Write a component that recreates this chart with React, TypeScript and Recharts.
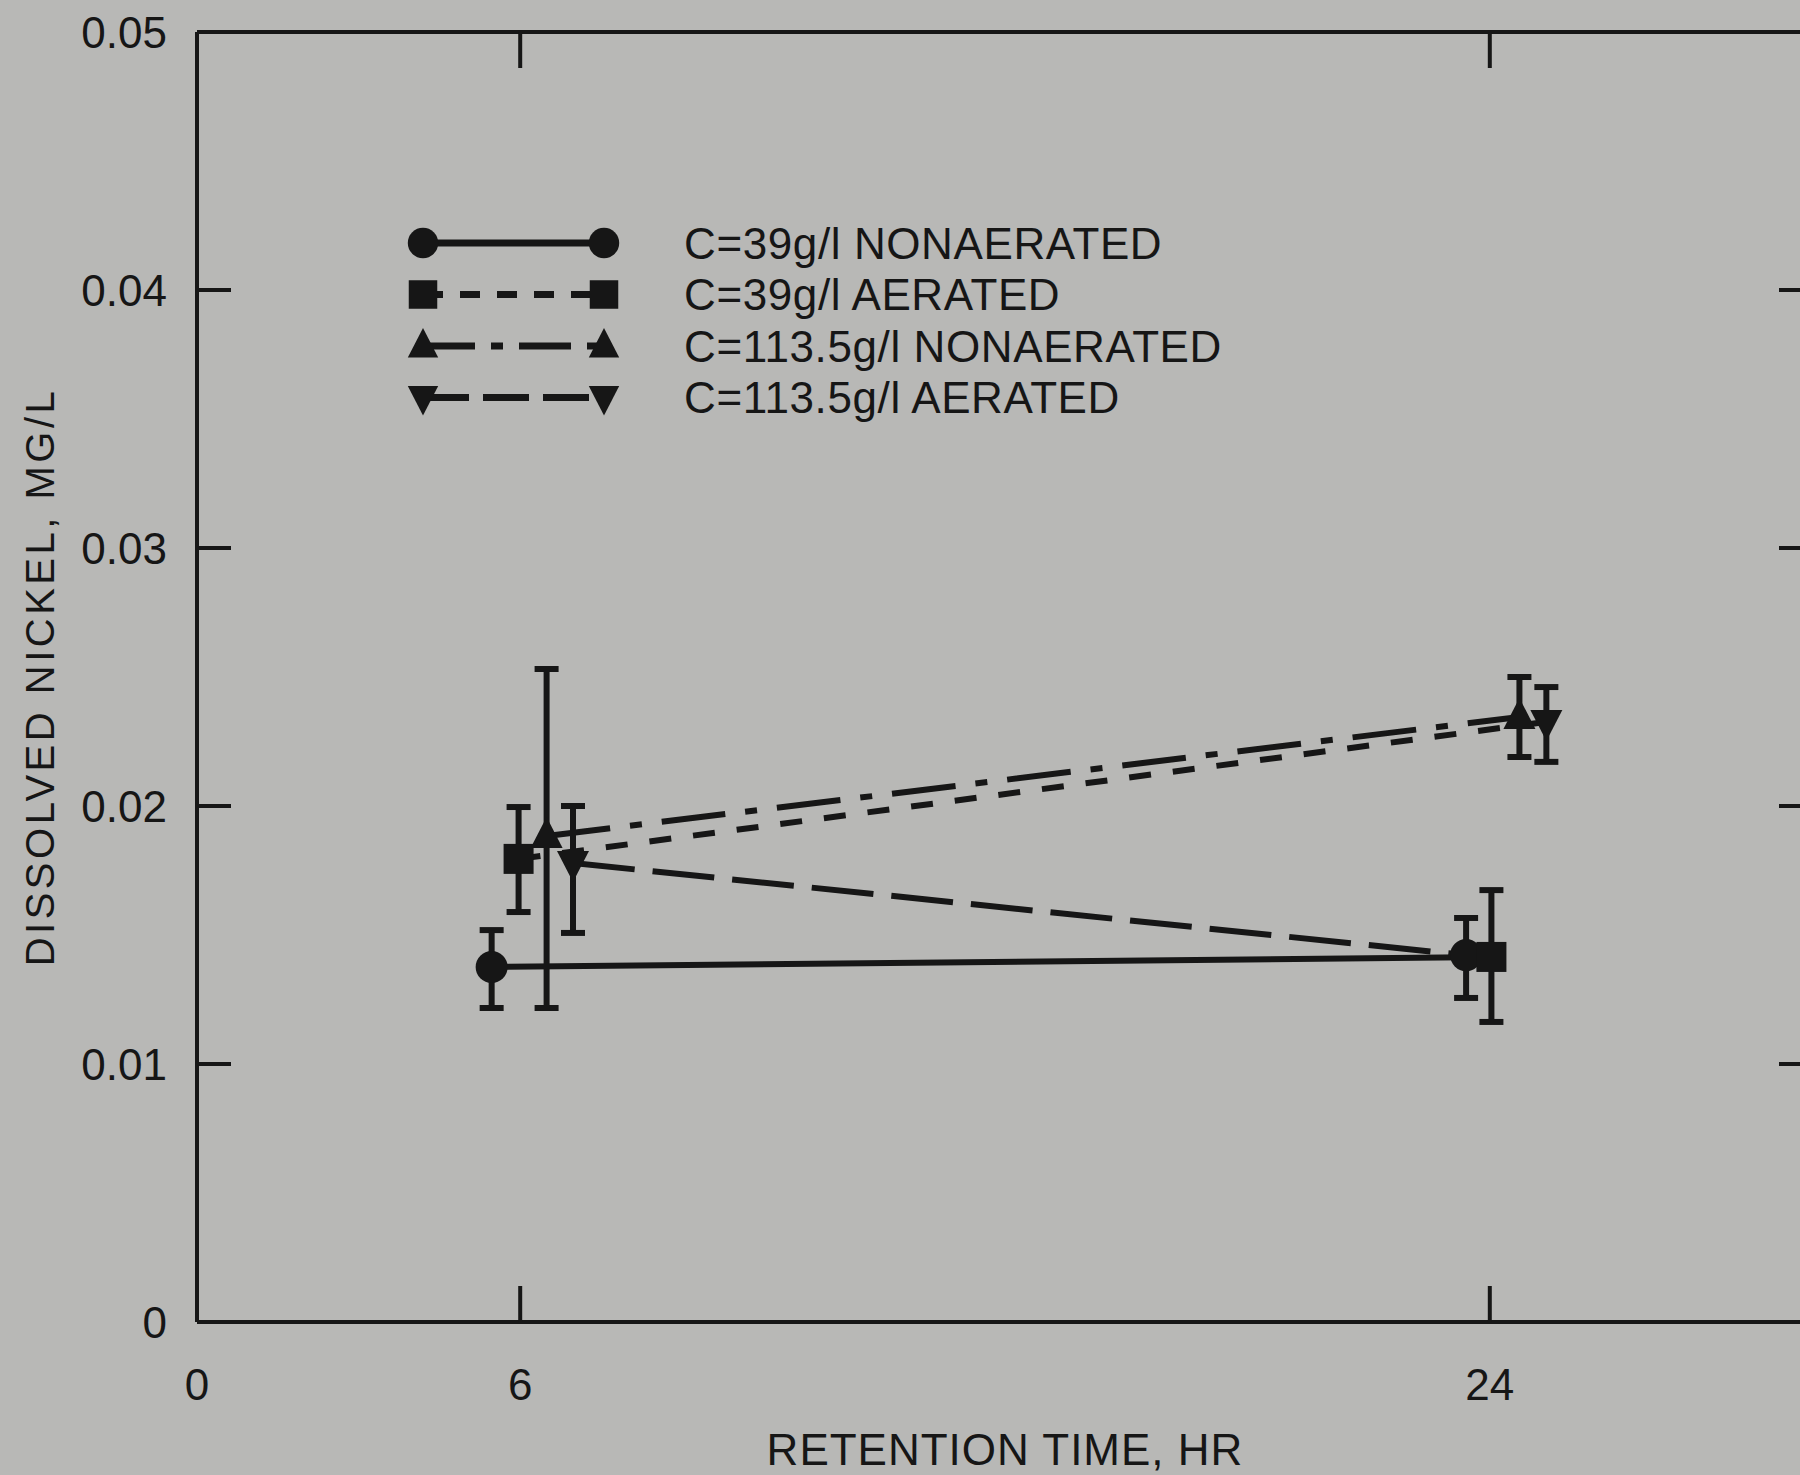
import React from 'react';
import { ComposedChart, Line, Scatter, XAxis, YAxis, ErrorBar, Legend, Label } from 'recharts';

const INK = '#161616';
const BG = '#b8b8b6';
const FONT = '"Liberation Sans", Arial, Helvetica, sans-serif';

const X_TICKS = [0, 6, 24];
const TOP_TICKS = [6, 24];
const Y_TICKS = [0, 0.01, 0.02, 0.03, 0.04, 0.05];
const SIDE_TICKS = [0.01, 0.02, 0.03, 0.04];

const LABELS = [
  'C=39g/l NONAERATED',
  'C=39g/l AERATED',
  'C=113.5g/l NONAERATED',
  'C=113.5g/l AERATED',
];

// measured points: t = retention time (hr), v = mean, lo / hi = error bar ends
const CIRCLE_PTS = [
  { t: 5.47, v: 0.01376, lo: 0.01217, hi: 0.01519 },
  { t: 23.56, v: 0.01422, lo: 0.01256, hi: 0.01566 },
];
const SQUARE_PTS = [
  { t: 5.97, v: 0.01795, lo: 0.01589, hi: 0.01996 },
  { t: 24.03, v: 0.01415, lo: 0.01163, hi: 0.01674 },
];
const TRIANGLE_PTS = [
  { t: 6.49, v: 0.01884, lo: 0.01217, hi: 0.02531 },
  { t: 24.55, v: 0.02345, lo: 0.0219, hi: 0.025 },
];
const INV_TRIANGLE_PTS = [
  { t: 6.98, v: 0.01779, lo: 0.01508, hi: 0.02 },
  { t: 25.05, v: 0.02326, lo: 0.02171, hi: 0.02461 },
];

// the connecting lines, as they are drawn in the figure
const SOLID_LINE = [CIRCLE_PTS[0], SQUARE_PTS[1]];
const SHORT_DASH_LINE = [SQUARE_PTS[0], INV_TRIANGLE_PTS[1]];
const DASH_DOT_LINE = [TRIANGLE_PTS[0], TRIANGLE_PTS[1]];
const LONG_DASH_LINE = [INV_TRIANGLE_PTS[0], CIRCLE_PTS[1]];

type Kind = 'circle' | 'square' | 'triangle' | 'inv';

const SERIES: { name: string; kind: Kind; pts: any[]; line: any[]; dash?: string; legendDash?: string }[] = [
  { name: LABELS[0], kind: 'circle', pts: CIRCLE_PTS, line: SOLID_LINE },
  { name: LABELS[1], kind: 'square', pts: SQUARE_PTS, line: SHORT_DASH_LINE, dash: '22 22', legendDash: '20 17' },
  { name: LABELS[2], kind: 'triangle', pts: TRIANGLE_PTS, line: DASH_DOT_LINE, dash: '64 20 12 20', legendDash: '52 16 12 16' },
  { name: LABELS[3], kind: 'inv', pts: INV_TRIANGLE_PTS, line: LONG_DASH_LINE, dash: '62 18', legendDash: '46 14' },
];

const Marker = ({ kind, cx, cy, s = 1 }: { kind: Kind; cx: number; cy: number; s?: number }) => {
  if (kind === 'circle') return <circle cx={cx} cy={cy} r={16 * s} fill={INK} />;
  if (kind === 'square') return <rect x={cx - 15 * s} y={cy - 15 * s} width={30 * s} height={30 * s} fill={INK} />;
  if (kind === 'triangle')
    return <polygon points={`${cx},${cy - 19 * s} ${cx + 16 * s},${cy + 12 * s} ${cx - 16 * s},${cy + 12 * s}`} fill={INK} />;
  return <polygon points={`${cx},${cy + 19 * s} ${cx + 16 * s},${cy - 12 * s} ${cx - 16 * s},${cy - 12 * s}`} fill={INK} />;
};

const textStyle = { fontFamily: FONT, fontSize: 44, fill: INK };

const LeftTick = (p: any) => {
  const v = p.payload.value;
  return (
    <g>
      {v > 0 && v < 0.05 && <line x1={p.x} x2={p.x + 34} y1={p.y} y2={p.y} stroke={INK} strokeWidth={4} />}
      <text x={p.x - 30} y={p.y} textAnchor="end" dominantBaseline="central" {...textStyle}>
        {v === 0 ? '0' : v.toFixed(2)}
      </text>
    </g>
  );
};

const RightTick = (p: any) => (
  <line x1={p.x} x2={p.x - 34} y1={p.y} y2={p.y} stroke={INK} strokeWidth={4} />
);

const BottomTick = (p: any) => {
  const v = p.payload.value;
  return (
    <g>
      {v > 0 && <line x1={p.x} x2={p.x} y1={p.y} y2={p.y - 36} stroke={INK} strokeWidth={4} />}
      <text x={p.x} y={p.y + 62} textAnchor="middle" dominantBaseline="central" {...textStyle}>
        {v}
      </text>
    </g>
  );
};

const TopTick = (p: any) => (
  <line x1={p.x} x2={p.x} y1={p.y} y2={p.y + 36} stroke={INK} strokeWidth={4} />
);

const renderLegend = () => (
  <svg width={880} height={215}>
    {SERIES.map((s, i) => {
      const y = 28 + i * 51.5;
      return (
        <g key={s.name}>
          <line x1={23} x2={204} y1={y} y2={y} stroke={INK} strokeWidth={7} strokeDasharray={s.legendDash} />
          <Marker kind={s.kind} cx={23} cy={y} s={0.95} />
          <Marker kind={s.kind} cx={204} cy={y} s={0.95} />
          <text x={284} y={y} dominantBaseline="central" letterSpacing={0.6} {...textStyle}>
            {s.name}
          </text>
        </g>
      );
    })}
  </svg>
);

export default function App() {
  return (
    <div style={{ position: 'fixed', left: 0, top: 0, width: 1800, height: 1475, overflow: 'hidden', background: BG }}>
      <ComposedChart width={1840} height={1475} margin={{ top: 31, right: 26, bottom: 0, left: 0 }}>
        <XAxis
          dataKey="t"
          type="number"
          domain={[0, 30]}
          ticks={X_TICKS}
          interval={0}
          allowDataOverflow
          height={153}
          tickSize={0}
          tickMargin={0}
          tickLine={false}
          axisLine={{ stroke: INK, strokeWidth: 4 }}
          tick={(p: any) => <BottomTick {...p} />}
        >
          <Label
            content={(lp: any) => (
              <text
                x={lp.viewBox.x + lp.viewBox.width / 2}
                y={lp.viewBox.y + 127}
                textAnchor="middle"
                dominantBaseline="central"
                letterSpacing={1}
                {...textStyle}
              >
                RETENTION TIME, HR
              </text>
            )}
          />
        </XAxis>
        <XAxis
          xAxisId="top"
          orientation="top"
          dataKey="t"
          type="number"
          domain={[0, 30]}
          ticks={TOP_TICKS}
          interval={0}
          allowDataOverflow
          height={1}
          tickSize={0}
          tickMargin={0}
          tickLine={false}
          axisLine={{ stroke: INK, strokeWidth: 4 }}
          tick={(p: any) => <TopTick {...p} />}
        />
        <YAxis
          dataKey="v"
          type="number"
          domain={[0, 0.05]}
          ticks={Y_TICKS}
          interval={0}
          allowDataOverflow
          width={197}
          tickSize={0}
          tickMargin={0}
          tickLine={false}
          axisLine={{ stroke: INK, strokeWidth: 4 }}
          tick={(p: any) => <LeftTick {...p} />}
        >
          <Label
            content={(lp: any) => {
              const cx = 40;
              const cy = lp.viewBox.y + lp.viewBox.height / 2;
              return (
                <text
                  x={cx}
                  y={cy}
                  transform={`rotate(-90 ${cx} ${cy})`}
                  textAnchor="middle"
                  dominantBaseline="central"
                  letterSpacing={3.5}
                  {...textStyle}
                  fontSize={40}
                >
                  DISSOLVED NICKEL, MG/L
                </text>
              );
            }}
          />
        </YAxis>
        <YAxis
          yAxisId="right"
          orientation="right"
          dataKey="v"
          type="number"
          domain={[0, 0.05]}
          ticks={SIDE_TICKS}
          interval={0}
          allowDataOverflow
          width={1}
          tickSize={0}
          tickMargin={0}
          tickLine={false}
          axisLine={{ stroke: INK, strokeWidth: 4 }}
          tick={(p: any) => <RightTick {...p} />}
        />
        <Legend
          layout="vertical"
          verticalAlign="middle"
          align="center"
          content={renderLegend}
          wrapperStyle={{ left: 400, top: 215, width: 880, height: 215 }}
        />
        {SERIES.map((s) => (
          <Line
            key={'line-' + s.name}
            xAxisId="top"
            yAxisId="right"
            data={s.line}
            dataKey="v"
            type="linear"
            stroke={INK}
            strokeWidth={6}
            strokeDasharray={s.dash}
            dot={false}
            activeDot={false}
            legendType="none"
            isAnimationActive={false}
          />
        ))}
        {SERIES.map((s) => (
          <Scatter
            key={'pts-' + s.name}
            name={s.name}
            data={s.pts.map((p) => ({ ...p, err: [p.v - p.lo, p.hi - p.v] }))}
            dataKey="v"
            fill={INK}
            shape={(sp: any) => <Marker kind={s.kind} cx={sp.cx} cy={sp.cy} />}
            isAnimationActive={false}
          >
            <ErrorBar dataKey="err" direction="y" width={12} stroke={INK} strokeWidth={6} />
          </Scatter>
        ))}
      </ComposedChart>
    </div>
  );
}
